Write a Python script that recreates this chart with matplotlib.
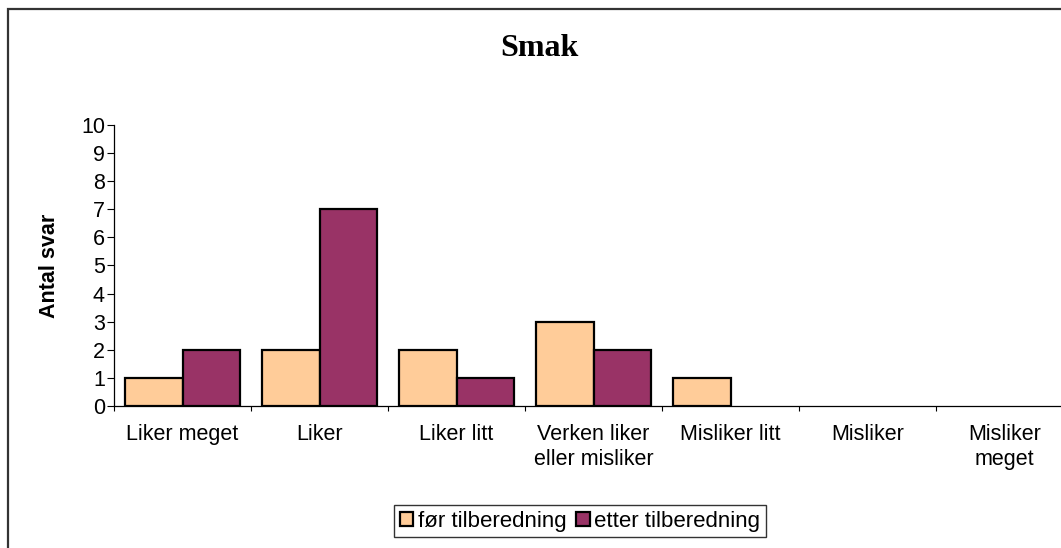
import matplotlib
matplotlib.use("Agg")
import matplotlib.pyplot as plt
import matplotlib.patches as mpatches
import numpy as np

plt.rcParams['font.family'] = ['Liberation Sans', 'DejaVu Sans']

categories = ["Liker meget", "Liker", "Liker litt", "Verken liker\neller misliker",
              "Misliker litt", "Misliker", "Misliker\nmeget"]
series_names = ["før tilberedning", "etter tilberedning"]
for_values = [1, 2, 2, 3, 1, 0, 0]
etter_values = [2, 7, 1, 2, 0, 0, 0]
yticks = list(range(0, 11))
title = "Smak"
ylabel = "Antal svar"

W, H = 1061, 548
fig = plt.figure(figsize=(W / 100, H / 100), dpi=100)

# outer chart frame (extends past right/bottom edges as in the reference)
frame = mpatches.Rectangle((7.5 / W, -0.2), 2.0, 1.2 - 8.5 / H,
                           transform=fig.transFigure, fill=False,
                           edgecolor="#333333", linewidth=1.6, zorder=0)
fig.patches.append(frame)

ax = fig.add_axes([114 / W, (H - 406) / H, (1073 - 114) / W, (406 - 125) / H])
ax.patch.set_alpha(0)

x = np.arange(len(categories))
bw = 0.418
b1 = ax.bar(x - bw / 2, for_values, width=bw, color="#FFCC99", edgecolor="black",
            linewidth=1.6, label=series_names[0], zorder=3)
b2 = ax.bar(x + bw / 2, etter_values, width=bw, color="#993366", edgecolor="black",
            linewidth=1.6, label=series_names[1], zorder=3)
for container in (b1, b2):
    for rect in container:
        if rect.get_height() == 0:
            rect.set_visible(False)

ax.set_xlim(-0.5, len(categories) - 0.5)
ax.set_ylim(0, 10)
ax.set_yticks(yticks)
ax.set_yticklabels([str(v) for v in yticks], fontsize=15.5)
ax.tick_params(axis='y', length=5, width=0.8, pad=1.5, direction='out')

ax.set_xticks(np.arange(-0.5, len(categories), 1.0))
ax.set_xticklabels([])
ax.tick_params(axis='x', which='major', length=3.5, width=0.8, direction='out')
ax.set_xticks(x, minor=True)
ax.set_xticklabels(categories, minor=True, fontsize=15.5, linespacing=1.25)
ax.tick_params(axis='x', which='minor', length=0, pad=13)

for s in ['top', 'right']:
    ax.spines[s].set_visible(False)
for s in ['left', 'bottom']:
    ax.spines[s].set_linewidth(0.9)
    ax.spines[s].set_color("black")

ax.set_ylabel(ylabel, fontsize=15.5, fontweight='bold')
ax.yaxis.set_label_coords((60 - 114) / (1073 - 114), 0.5)

fig.text(539 / W, 1 - 49 / H, title, fontsize=23, fontweight='bold',
         family=['Liberation Serif', 'DejaVu Serif'], ha='center', va='center')

leg = fig.legend(loc='center', bbox_to_anchor=(580 / W, 1 - 521 / H), ncol=2,
                 fontsize=16, frameon=True, fancybox=False, shadow=False,
                 handlelength=0.6, handleheight=0.6, handletextpad=0.2,
                 columnspacing=0.45, borderpad=0.25, borderaxespad=0)
leg.get_frame().set_edgecolor("black")
leg.get_frame().set_linewidth(1.0)

fig.savefig("out.png", dpi=100)
